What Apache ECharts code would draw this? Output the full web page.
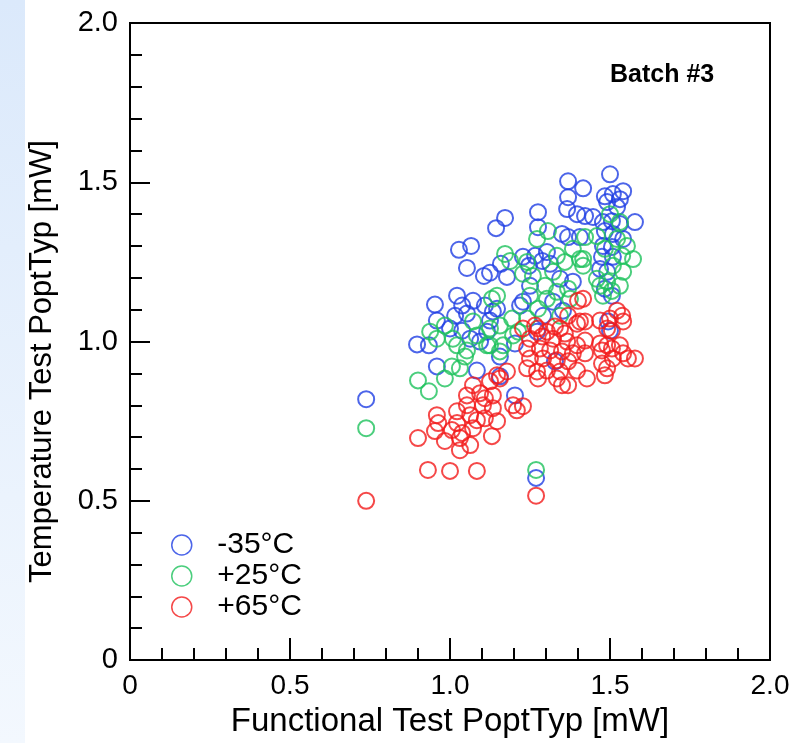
<!DOCTYPE html>
<html>
<head>
<meta charset="utf-8">
<script src="https://cdn.jsdelivr.net/npm/echarts@6/dist/echarts.min.js"></script>
<style>
  html, body { margin: 0; padding: 0; background: #fff; }
  #chart { width: 796px; height: 743px; }
</style>
</head>
<body>
<div id="chart"></div>
<script>
// readings, [functional, temperature] in mW
const minus35 = [
  [0.738, 0.819], [0.897, 0.991], [0.934, 0.988], [1.172, 1.388], [1.144, 1.356],
  [1.066, 1.300], [1.028, 1.288], [1.053, 1.231], [1.125, 1.216], [1.106, 1.206],
  [1.178, 1.203], [1.159, 1.244], [0.953, 1.116], [1.022, 1.144], [1.038, 1.113],
  [1.072, 1.128], [1.109, 1.113], [1.147, 1.103], [0.959, 1.066], [1.016, 1.081],
  [1.053, 1.088], [1.000, 1.041], [1.038, 1.034], [1.116, 1.031], [1.094, 1.000],
  [1.063, 1.009], [1.125, 1.066], [1.219, 1.113], [0.959, 0.922], [1.084, 0.909],
  [1.156, 0.891], [1.203, 0.831], [1.269, 0.572], [1.369, 1.503], [1.416, 1.481],
  [1.369, 1.453], [1.366, 1.416], [1.397, 1.400], [1.422, 1.394], [1.275, 1.406],
  [1.275, 1.359], [1.350, 1.338], [1.369, 1.328], [1.406, 1.328], [1.228, 1.266],
  [1.266, 1.269], [1.288, 1.253], [1.303, 1.281], [1.313, 1.244], [1.247, 1.238],
  [1.250, 1.175], [1.344, 1.197], [1.384, 1.188], [1.228, 1.125], [1.134, 1.094],
  [1.353, 1.097], [1.322, 1.125], [1.291, 1.081], [1.272, 1.031], [1.500, 1.525],
  [1.541, 1.472], [1.484, 1.456], [1.509, 1.463], [1.531, 1.447], [1.491, 1.438],
  [1.522, 1.422], [1.447, 1.391], [1.478, 1.375], [1.506, 1.378], [1.531, 1.369],
  [1.578, 1.375], [1.484, 1.347], [1.509, 1.338], [1.541, 1.322], [1.478, 1.300],
  [1.506, 1.297], [1.475, 1.266], [1.509, 1.266], [1.469, 1.228], [1.491, 1.219],
  [1.484, 1.166], [1.506, 1.144], [1.494, 1.063], [1.500, 1.034], [1.203, 0.994],
  [1.156, 0.953], [1.328, 0.938]
];

const plus25 = [
  [0.738, 0.728], [1.172, 1.275], [1.188, 1.253], [1.147, 1.144], [0.938, 1.031],
  [0.984, 1.050], [1.009, 1.009], [1.072, 1.063], [1.084, 1.019], [1.125, 0.988],
  [1.166, 0.988], [1.022, 0.988], [0.900, 0.878], [0.934, 0.844], [0.984, 0.884],
  [1.006, 0.922], [1.031, 0.916], [1.047, 0.953], [1.269, 0.597], [1.241, 1.250],
  [1.272, 1.322], [1.384, 1.291], [1.406, 1.259], [1.416, 1.238], [1.359, 1.250],
  [1.334, 1.269], [1.259, 1.206], [1.297, 1.175], [1.322, 1.219], [1.369, 1.166],
  [1.228, 1.213], [1.131, 1.134], [1.250, 1.144], [1.303, 1.134], [1.375, 1.134],
  [1.334, 1.156], [1.194, 1.072], [1.241, 1.072], [1.275, 1.103], [1.344, 1.081],
  [1.156, 1.050], [1.125, 1.041], [1.213, 1.031], [1.500, 1.400], [1.531, 1.375],
  [1.459, 1.331], [1.522, 1.322], [1.553, 1.300], [1.572, 1.259], [1.484, 1.291],
  [1.538, 1.269], [1.509, 1.238], [1.541, 1.219], [1.459, 1.197], [1.491, 1.188],
  [1.531, 1.175], [1.478, 1.144], [1.469, 1.175], [1.506, 1.159], [1.422, 1.328],
  [1.416, 1.259], [1.197, 1.019], [1.116, 0.988], [1.156, 0.969], [0.959, 1.009],
  [1.053, 0.972], [1.306, 1.347]
];

const plus65 = [
  [0.738, 0.500], [1.269, 0.516], [1.147, 0.894], [1.178, 0.906], [1.125, 0.875],
  [1.072, 0.863], [1.053, 0.831], [1.094, 0.838], [1.134, 0.831], [1.053, 0.800],
  [1.103, 0.800], [1.022, 0.781], [1.063, 0.769], [1.134, 0.791], [0.959, 0.769],
  [0.963, 0.744], [1.022, 0.744], [1.084, 0.753], [1.109, 0.759], [1.147, 0.750],
  [0.953, 0.719], [1.006, 0.722], [1.038, 0.713], [1.072, 0.728], [0.900, 0.697],
  [0.984, 0.688], [1.031, 0.697], [1.063, 0.675], [1.131, 0.703], [1.031, 0.659],
  [0.931, 0.597], [1.000, 0.594], [1.084, 0.594], [1.197, 0.800], [1.209, 0.784],
  [1.228, 0.797], [1.400, 1.128], [1.369, 1.081], [1.406, 1.063], [1.228, 1.041],
  [1.275, 1.041], [1.303, 1.031], [1.344, 1.041], [1.522, 1.097], [1.538, 1.081],
  [1.500, 1.072], [1.469, 1.066], [1.416, 1.134], [1.541, 1.063], [1.491, 1.041],
  [1.506, 1.034], [1.469, 0.994], [1.491, 0.988], [1.506, 0.978], [1.531, 0.988],
  [1.475, 0.972], [1.541, 0.963], [1.578, 0.947], [1.556, 0.947], [1.509, 0.947],
  [1.475, 0.931], [1.491, 0.916], [1.428, 0.884], [1.484, 0.894], [1.422, 0.963],
  [1.422, 1.063], [1.422, 1.003], [1.266, 1.050], [1.328, 1.047], [1.359, 1.025],
  [1.397, 1.056], [1.250, 1.009], [1.288, 1.016], [1.322, 1.009], [1.366, 1.000],
  [1.397, 0.988], [1.241, 0.978], [1.281, 0.978], [1.313, 0.972], [1.350, 0.969],
  [1.384, 0.963], [1.250, 0.947], [1.291, 0.947], [1.334, 0.941], [1.369, 0.938],
  [1.241, 0.916], [1.272, 0.906], [1.303, 0.909], [1.344, 0.906], [1.397, 0.909],
  [1.275, 0.884], [1.334, 0.884], [1.350, 0.863], [1.369, 0.863], [1.156, 0.884],
  [1.109, 0.822]
];

const seriesNames = ['-35°C', '+25°C', '+65°C'];
const seriesColors = ['#1f3fe3', '#1ec25c', '#f21a1a'];
const seriesData = [minus35, plus25, plus65];

const chart = echarts.init(document.getElementById('chart'));

const font = 'Liberation Sans, Arial, sans-serif';

const option = {
  backgroundColor: '#fff',
  animation: false,
  graphic: [{
    type: 'rect',
    left: 0, top: 0,
    shape: { width: 25, height: 743 },
    style: {
      fill: new echarts.graphic.LinearGradient(0, 0, 0, 1, [
        { offset: 0, color: '#dbe9fb' },
        { offset: 1, color: '#f3f8fe' }
      ])
    },
    z: -10
  }, {
    type: 'text',
    left: 610, top: 63,
    style: { text: 'Batch #3', font: 'bold 25px ' + font, fill: '#000' }
  }],
  grid: {
    left: 130, top: 23, width: 640, height: 640,
    show: true,
    borderColor: '#000',
    borderWidth: 2,
    backgroundColor: 'transparent'
  },
  legend: {
    orient: 'vertical',
    left: 166, top: 525,
    itemGap: 1,
    itemWidth: 21, itemHeight: 20,
    textStyle: { fontSize: 30, color: '#000', fontFamily: font, padding: [0, 0, 0, 20] },
    data: seriesNames.map((n, i) => ({
      name: n,
      icon: 'circle',
      itemStyle: { color: 'transparent', borderColor: seriesColors[i], borderWidth: 1.5 }
    }))
  },
  xAxis: [{
    type: 'value',
    min: 0, max: 2, interval: 0.5,
    name: 'Functional Test PoptTyp [mW]',
    nameLocation: 'middle',
    nameGap: 36,
    nameTextStyle: { fontSize: 33, color: '#000', fontFamily: font },
    axisLine: { show: true, lineStyle: { color: '#000', width: 2 } },
    axisTick: { show: true, inside: true, length: 22, lineStyle: { color: '#000', width: 2 } },
    minorTick: { show: true, splitNumber: 5, length: 12, lineStyle: { color: '#000', width: 2 } },
    splitLine: { show: false },
    axisLabel: {
      fontSize: 28, color: '#000', fontFamily: font, margin: 12,
      formatter: v => v === 0 ? '0' : v.toFixed(1)
    }
  }],
  yAxis: [{
    type: 'value',
    min: 0, max: 2, interval: 0.5,
    name: 'Temperature Test PoptTyp [mW]',
    nameLocation: 'middle',
    nameGap: 72,
    nameTextStyle: { fontSize: 31, color: '#000', fontFamily: font, padding: [0, 40, 0, 0] },
    axisLine: { show: true, lineStyle: { color: '#000', width: 2 } },
    axisTick: { show: true, inside: true, length: 20, lineStyle: { color: '#000', width: 2 } },
    minorTick: { show: true, splitNumber: 5, length: 12, lineStyle: { color: '#000', width: 2 } },
    splitLine: { show: false },
    axisLabel: {
      fontSize: 29, color: '#000', fontFamily: font, margin: 12,
      formatter: v => v === 0 ? '0' : v.toFixed(1)
    }
  }],
  series: seriesNames.map((n, i) => ({
    name: n,
    type: 'scatter',
    symbol: 'circle',
    symbolSize: 16,
    itemStyle: { color: 'transparent', borderColor: seriesColors[i], borderWidth: 2 },
    data: seriesData[i]
  }))
};

chart.setOption(option);
</script>
</body>
</html>
